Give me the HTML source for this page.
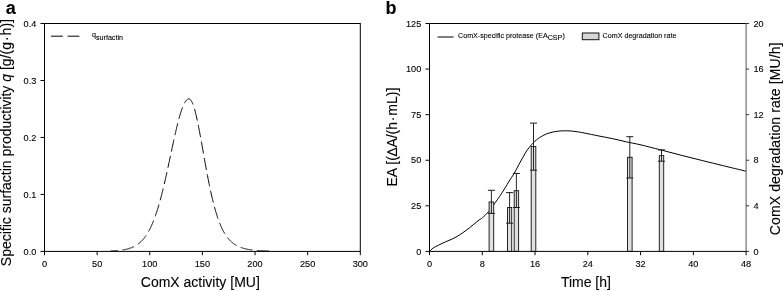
<!DOCTYPE html>
<html><head><meta charset="utf-8"><title>Figure</title>
<style>
html,body{margin:0;padding:0;background:#fff;}
body{width:783px;height:291px;overflow:hidden;}
svg text{stroke:#000;stroke-width:0.1px;}
svg{display:block;will-change:transform;transform:translateZ(0);font-family:"Liberation Sans", Arial, Helvetica, sans-serif;fill:#000;}
svg path, svg line, svg rect{}
</style></head><body>
<svg width="783" height="291" viewBox="0 0 783 291">
<rect x="0" y="0" width="783" height="291" fill="#fff"/>
<g fill="#000">
<rect x="44.5" y="23.5" width="315.80" height="227.90" fill="none" stroke="#000" stroke-width="1"/>
<line x1="40.50" y1="251.40" x2="44.50" y2="251.40" stroke="#000" stroke-width="1" />
<text transform="translate(36.30,254.65) scale(1,1.06)" font-size="9.2" text-anchor="end">0.0</text>
<line x1="40.50" y1="194.43" x2="44.50" y2="194.43" stroke="#000" stroke-width="1" />
<text transform="translate(36.30,197.68) scale(1,1.06)" font-size="9.2" text-anchor="end">0.1</text>
<line x1="40.50" y1="137.45" x2="44.50" y2="137.45" stroke="#000" stroke-width="1" />
<text transform="translate(36.30,140.70) scale(1,1.06)" font-size="9.2" text-anchor="end">0.2</text>
<line x1="40.50" y1="80.47" x2="44.50" y2="80.47" stroke="#000" stroke-width="1" />
<text transform="translate(36.30,83.72) scale(1,1.06)" font-size="9.2" text-anchor="end">0.3</text>
<line x1="40.50" y1="23.50" x2="44.50" y2="23.50" stroke="#000" stroke-width="1" />
<text transform="translate(36.30,26.75) scale(1,1.06)" font-size="9.2" text-anchor="end">0.4</text>
<line x1="44.50" y1="251.40" x2="44.50" y2="255.20" stroke="#000" stroke-width="1" />
<text transform="translate(44.50,267.10) scale(1,1.06)" font-size="9.2" text-anchor="middle">0</text>
<line x1="97.13" y1="251.40" x2="97.13" y2="255.20" stroke="#000" stroke-width="1" />
<text transform="translate(97.13,267.10) scale(1,1.06)" font-size="9.2" text-anchor="middle">50</text>
<line x1="149.77" y1="251.40" x2="149.77" y2="255.20" stroke="#000" stroke-width="1" />
<text transform="translate(149.77,267.10) scale(1,1.06)" font-size="9.2" text-anchor="middle">100</text>
<line x1="202.40" y1="251.40" x2="202.40" y2="255.20" stroke="#000" stroke-width="1" />
<text transform="translate(202.40,267.10) scale(1,1.06)" font-size="9.2" text-anchor="middle">150</text>
<line x1="255.03" y1="251.40" x2="255.03" y2="255.20" stroke="#000" stroke-width="1" />
<text transform="translate(255.03,267.10) scale(1,1.06)" font-size="9.2" text-anchor="middle">200</text>
<line x1="307.67" y1="251.40" x2="307.67" y2="255.20" stroke="#000" stroke-width="1" />
<text transform="translate(307.67,267.10) scale(1,1.06)" font-size="9.2" text-anchor="middle">250</text>
<line x1="360.30" y1="251.40" x2="360.30" y2="255.20" stroke="#000" stroke-width="1" />
<text transform="translate(360.30,267.10) scale(1,1.06)" font-size="9.2" text-anchor="middle">300</text>
<text transform="translate(200.3,287.1) scale(1.0,1)" font-size="14.0" text-anchor="middle">ComX activity [MU]</text>
<text transform="translate(11.3,142.6) rotate(-90) scale(1.0,1)" font-size="14.0" text-anchor="middle">Specific surfactin productivity <tspan font-style="italic">q</tspan> [g/(g<tspan dx="1">·</tspan><tspan dx="1">h)]</tspan></text>
<text x="5.80" y="13.60" font-size="18" text-anchor="start" font-weight="bold" >a</text>
<line x1="51.00" y1="36.20" x2="79.40" y2="36.20" stroke="#000" stroke-width="1.0" stroke-dasharray="11.8 4.8"/>
<text x="92" y="36.9" font-size="7.15">q<tspan dy="2.9" font-size="7.15">surfactin</tspan></text>
<path d="M189.00,98.90 L189.25,98.94 L189.50,99.02 L189.75,99.14 L190.00,99.31 L190.25,99.51 L190.50,99.76 L190.75,100.05 L191.00,100.38 L191.25,100.75 L191.50,101.16 L191.75,101.61 L192.00,102.10 L192.25,102.63 L192.50,103.19 L192.75,103.80 L193.00,104.44 L193.25,105.12 L193.50,105.83 L193.75,106.58 L194.00,107.37 L194.25,108.18 L194.50,109.04 L194.75,109.92 L195.00,110.83 L195.25,111.78 L195.50,112.75 L195.75,113.75 L196.00,114.78 L196.25,115.84 L196.50,116.92 L196.75,118.03 L197.00,119.16 L197.25,120.32 L197.50,121.49 L197.75,122.69 L198.00,123.91 L198.25,125.14 L198.50,126.40 L198.75,127.67 L199.00,128.96 L199.25,130.26 L199.50,131.57 L199.75,132.90 L200.00,134.24 L200.25,135.60 L200.50,136.96 L200.75,138.33 L201.00,139.71 L201.25,141.09 L201.50,142.49 L201.75,143.88 L202.00,145.29 L202.25,146.69 L202.50,148.10 L202.75,149.51 L203.00,150.92 L203.25,152.33 L203.50,153.75 L203.75,155.16 L204.00,156.56 L204.25,157.97 L204.50,159.37 L204.75,160.77 L205.00,162.16 L205.25,163.55 L205.50,164.93 L205.75,166.30 L206.00,167.67 L206.25,169.03 L206.50,170.38 L206.75,171.72 L207.00,173.05 L207.25,174.38 L207.50,175.69 L207.75,176.99 L208.00,178.28 L208.25,179.56 L208.50,180.83 L208.75,182.08 L209.00,183.33 L209.25,184.56 L209.50,185.78 L209.75,186.98 L210.00,188.17 L210.25,189.35 L210.50,190.51 L210.75,191.66 L211.00,192.80 L211.25,193.92 L211.50,195.02 L211.75,196.11 L212.00,197.19 L212.25,198.25 L212.50,199.30 L212.75,200.33 L213.00,201.35 L213.25,202.35 L213.50,203.34 L213.75,204.31 L214.00,205.27 L214.25,206.21 L214.50,207.14 L214.75,208.05 L215.00,208.95 L215.25,209.83 L215.50,210.70 L215.75,211.55 L216.00,212.39 L216.25,213.21 L216.50,214.02 L216.75,214.82 L217.00,215.60 L217.25,216.37 L217.50,217.12 L217.75,217.86 L218.00,218.59 L218.25,219.30 L218.50,220.00 L218.75,220.69 L219.00,221.36 L219.25,222.02 L219.50,222.67 L219.75,223.30 L220.00,223.92 L220.25,224.53 L220.50,225.13 L220.75,225.71 L221.00,226.29 L221.25,226.85 L221.50,227.40 L221.75,227.94 L222.00,228.47 L222.25,228.99 L222.50,229.49 L222.75,229.99 L223.00,230.47 L223.25,230.95 L223.50,231.41 L223.75,231.87 L224.00,232.32 L224.25,232.75 L224.50,233.18 L224.75,233.59 L225.00,234.00 L225.25,234.40 L225.50,234.79 L225.75,235.17 L226.00,235.55 L226.25,235.91 L226.50,236.27 L226.75,236.62 L227.00,236.96 L227.25,237.29 L227.50,237.62 L227.75,237.94 L228.00,238.25 L228.25,238.56 L228.50,238.85 L228.75,239.14 L229.00,239.43 L229.25,239.71 L229.50,239.98 L229.75,240.24 L230.00,240.50 L230.25,240.76 L230.50,241.00 L230.75,241.24 L231.00,241.48 L231.25,241.71 L231.50,241.94 L231.75,242.16 L232.00,242.37 L232.25,242.58 L232.50,242.79 L232.75,242.99 L233.00,243.18 L233.25,243.37 L233.50,243.56 L233.75,243.74 L234.00,243.92 L234.25,244.09 L234.50,244.26 L234.75,244.43 L235.00,244.59 L235.25,244.75 L235.50,244.90 L235.75,245.05 L236.00,245.20 L236.25,245.34 L236.50,245.48 L236.75,245.62 L237.00,245.75 L237.25,245.88 L237.50,246.01 L237.75,246.13 L238.00,246.25 L238.25,246.37 L238.50,246.49 L238.75,246.60 L239.00,246.71 L239.25,246.82 L239.50,246.92 L239.75,247.03 L240.00,247.13 L240.25,247.22 L240.50,247.32 L240.75,247.41 L241.00,247.50 L241.25,247.59 L241.50,247.68 L241.75,247.76 L242.00,247.85 L242.25,247.93 L242.50,248.00 L242.75,248.08 L243.00,248.16 L243.25,248.23 L243.50,248.30 L243.75,248.37 L244.00,248.44 L244.25,248.51 L244.50,248.57 L244.75,248.63 L245.00,248.70 L245.25,248.76 L245.50,248.82 L245.75,248.87 L246.00,248.93 L246.25,248.98 L246.50,249.04 L246.75,249.09 L247.00,249.14 L247.25,249.19 L247.50,249.24 L247.75,249.29 L248.00,249.34 L248.25,249.38 L248.50,249.43 L248.75,249.47 L249.00,249.51 L249.25,249.55 L249.50,249.59 L249.75,249.63 L250.00,249.67 L250.25,249.71 L250.50,249.75 L250.75,249.78 L251.00,249.82 L251.25,249.85 L251.50,249.88 L251.75,249.92 L252.00,249.95 L252.25,249.98 L252.50,250.01 L252.75,250.04 L253.00,250.07 L253.25,250.10 L253.50,250.13 L253.75,250.15 L254.00,250.18 L254.25,250.21 L254.50,250.23 L254.75,250.26 L255.00,250.28 L255.25,250.30 L255.50,250.33 L255.75,250.35 L256.00,250.37 L256.25,250.39 L256.50,250.41 L256.75,250.44 L257.00,250.46 L257.25,250.48 L257.50,250.49 L257.75,250.51 L258.00,250.53 L258.25,250.55 L258.50,250.57 L258.75,250.58 L259.00,250.60 L259.25,250.62 L259.50,250.63 L259.75,250.65 L260.00,250.67 L260.25,250.68 L260.50,250.69 L260.75,250.71 L261.00,250.72 L261.25,250.74 L261.50,250.75 L261.75,250.76 L262.00,250.78 L262.25,250.79 L262.50,250.80 L262.75,250.81 L263.00,250.83 L263.25,250.84 L263.50,250.85 L263.75,250.86 L264.00,250.87 L264.25,250.88 L264.50,250.89 L264.75,250.90 L265.00,250.91 L265.25,250.92 L265.50,250.93 L265.75,250.94 L266.00,250.95 L266.25,250.96 L266.50,250.97 L266.75,250.97 L267.00,250.98 L267.25,250.99 L267.50,251.00 L267.75,251.01 L268.00,251.01 L268.25,251.02 L268.50,251.03 L268.75,251.04 L269.00,251.04 L269.25,251.05 L269.50,251.06 L269.75,251.06 L270.00,251.07 L270.25,251.08 L270.50,251.08 L270.75,251.09 L271.00,251.09 L271.25,251.10 L271.50,251.11" fill="none" stroke="#000" stroke-width="1.0" stroke-dasharray="12.2 4.5" stroke-dashoffset="5.01"/>
<path d="M189.00,98.90 L188.75,98.90 L188.50,98.93 L188.25,98.99 L188.00,99.07 L187.75,99.18 L187.50,99.32 L187.25,99.49 L187.00,99.68 L186.75,99.89 L186.50,100.14 L186.25,100.40 L186.00,100.70 L185.75,101.02 L185.50,101.37 L185.25,101.74 L185.00,102.14 L184.75,102.56 L184.50,103.01 L184.25,103.48 L184.00,103.98 L183.75,104.50 L183.50,105.04 L183.25,105.61 L183.00,106.20 L182.75,106.81 L182.50,107.45 L182.25,108.10 L182.00,108.78 L181.75,109.48 L181.50,110.20 L181.25,110.94 L181.00,111.71 L180.75,112.49 L180.50,113.29 L180.25,114.11 L180.00,114.95 L179.75,115.80 L179.50,116.67 L179.25,117.56 L179.00,118.47 L178.75,119.39 L178.50,120.33 L178.25,121.28 L178.00,122.25 L177.75,123.23 L177.50,124.23 L177.25,125.24 L177.00,126.26 L176.75,127.29 L176.50,128.34 L176.25,129.40 L176.00,130.46 L175.75,131.54 L175.50,132.63 L175.25,133.72 L175.00,134.83 L174.75,135.94 L174.50,137.06 L174.25,138.19 L174.00,139.32 L173.75,140.46 L173.50,141.61 L173.25,142.76 L173.00,143.92 L172.75,145.08 L172.50,146.24 L172.25,147.41 L172.00,148.58 L171.75,149.75 L171.50,150.93 L171.25,152.11 L171.00,153.28 L170.75,154.46 L170.50,155.64 L170.25,156.82 L170.00,157.99 L169.75,159.17 L169.50,160.35 L169.25,161.52 L169.00,162.69 L168.75,163.86 L168.50,165.03 L168.25,166.19 L168.00,167.35 L167.75,168.50 L167.50,169.65 L167.25,170.80 L167.00,171.94 L166.75,173.07 L166.50,174.20 L166.25,175.33 L166.00,176.45 L165.75,177.56 L165.50,178.66 L165.25,179.76 L165.00,180.85 L164.75,181.94 L164.50,183.01 L164.25,184.08 L164.00,185.14 L163.75,186.20 L163.50,187.24 L163.25,188.28 L163.00,189.30 L162.75,190.32 L162.50,191.33 L162.25,192.33 L162.00,193.32 L161.75,194.30 L161.50,195.27 L161.25,196.23 L161.00,197.18 L160.75,198.12 L160.50,199.05 L160.25,199.97 L160.00,200.88 L159.75,201.78 L159.50,202.67 L159.25,203.55 L159.00,204.42 L158.75,205.28 L158.50,206.13 L158.25,206.97 L158.00,207.79 L157.75,208.61 L157.50,209.42 L157.25,210.21 L157.00,210.99 L156.75,211.77 L156.50,212.53 L156.25,213.28 L156.00,214.02 L155.75,214.75 L155.50,215.47 L155.25,216.18 L155.00,216.88 L154.75,217.57 L154.50,218.25 L154.25,218.92 L154.00,219.58 L153.75,220.22 L153.50,220.86 L153.25,221.49 L153.00,222.10 L152.75,222.71 L152.50,223.31 L152.25,223.90 L152.00,224.47 L151.75,225.04 L151.50,225.60 L151.25,226.15 L151.00,226.68 L150.75,227.21 L150.50,227.73 L150.25,228.25 L150.00,228.75 L149.75,229.24 L149.50,229.72 L149.25,230.20 L149.00,230.67 L148.75,231.12 L148.50,231.57 L148.25,232.01 L148.00,232.45 L147.75,232.87 L147.50,233.29 L147.25,233.70 L147.00,234.10 L146.75,234.49 L146.50,234.87 L146.25,235.25 L146.00,235.62 L145.75,235.98 L145.50,236.34 L145.25,236.69 L145.00,237.03 L144.75,237.36 L144.50,237.69 L144.25,238.01 L144.00,238.32 L143.75,238.63 L143.50,238.93 L143.25,239.23 L143.00,239.51 L142.75,239.80 L142.50,240.07 L142.25,240.34 L142.00,240.61 L141.75,240.87 L141.50,241.12 L141.25,241.37 L141.00,241.61 L140.75,241.85 L140.50,242.08 L140.25,242.31 L140.00,242.53 L139.75,242.75 L139.50,242.96 L139.25,243.16 L139.00,243.37 L138.75,243.57 L138.50,243.76 L138.25,243.95 L138.00,244.13 L137.75,244.31 L137.50,244.49 L137.25,244.66 L137.00,244.83 L136.75,244.99 L136.50,245.16 L136.25,245.31 L136.00,245.47 L135.75,245.61 L135.50,245.76 L135.25,245.90 L135.00,246.04 L134.75,246.18 L134.50,246.31 L134.25,246.44 L134.00,246.57 L133.75,246.69 L133.50,246.81 L133.25,246.93 L133.00,247.04 L132.75,247.15 L132.50,247.26 L132.25,247.37 L132.00,247.47 L131.75,247.58 L131.50,247.67 L131.25,247.77 L131.00,247.86 L130.75,247.96 L130.50,248.05 L130.25,248.13 L130.00,248.22 L129.75,248.30 L129.50,248.38 L129.25,248.46 L129.00,248.54 L128.75,248.61 L128.50,248.69 L128.25,248.76 L128.00,248.83 L127.75,248.89 L127.50,248.96 L127.25,249.02 L127.00,249.09 L126.75,249.15 L126.50,249.21 L126.25,249.26 L126.00,249.32 L125.75,249.38 L125.50,249.43 L125.25,249.48 L125.00,249.53 L124.75,249.58 L124.50,249.63 L124.25,249.68 L124.00,249.72 L123.75,249.77 L123.50,249.81 L123.25,249.85 L123.00,249.90 L122.75,249.94 L122.50,249.97 L122.25,250.01 L122.00,250.05 L121.75,250.09 L121.50,250.12 L121.25,250.16 L121.00,250.19 L120.75,250.22 L120.50,250.25 L120.25,250.28 L120.00,250.31 L119.75,250.34 L119.50,250.37 L119.25,250.40 L119.00,250.43 L118.75,250.45 L118.50,250.48 L118.25,250.50 L118.00,250.53 L117.75,250.55 L117.50,250.57 L117.25,250.59 L117.00,250.62 L116.75,250.64 L116.50,250.66 L116.25,250.68 L116.00,250.70 L115.75,250.72 L115.50,250.74 L115.25,250.75 L115.00,250.77 L114.75,250.79 L114.50,250.80 L114.25,250.82 L114.00,250.84 L113.75,250.85 L113.50,250.87 L113.25,250.88 L113.00,250.89 L112.75,250.91 L112.50,250.92 L112.25,250.93 L112.00,250.95 L111.75,250.96 L111.50,250.97 L111.25,250.98 L111.00,250.99 L110.75,251.00 L110.50,251.02" fill="none" stroke="#000" stroke-width="1.0" stroke-dasharray="12.2 4.5" stroke-dashoffset="5.60"/>
<path d="M429.60,251.30 C430.20,250.75 431.68,249.03 433.20,248.00 C434.72,246.97 436.63,246.13 438.70,245.10 C440.77,244.07 443.30,242.83 445.60,241.80 C447.90,240.77 450.20,240.03 452.50,238.90 C454.80,237.77 457.12,236.43 459.40,235.00 C461.68,233.57 463.92,231.98 466.20,230.30 C468.48,228.62 470.97,226.62 473.10,224.90 C475.23,223.18 477.43,221.20 479.00,220.00 C480.57,218.80 480.88,219.12 482.50,217.70 C484.12,216.28 486.87,213.62 488.70,211.50 C490.53,209.38 492.08,206.93 493.50,205.00 C494.92,203.07 495.75,201.98 497.20,199.90 C498.65,197.82 500.30,195.48 502.20,192.50 C504.10,189.52 506.62,185.17 508.60,182.00 C510.58,178.83 512.42,176.35 514.10,173.50 C515.78,170.65 517.23,167.60 518.70,164.90 C520.17,162.20 521.52,159.72 522.90,157.30 C524.28,154.88 525.63,152.42 527.00,150.40 C528.37,148.38 530.02,146.52 531.10,145.20 C532.18,143.88 532.12,143.75 533.50,142.50 C534.88,141.25 537.28,139.12 539.40,137.70 C541.52,136.28 543.92,134.95 546.20,134.00 C548.48,133.05 550.97,132.48 553.10,132.00 C555.23,131.52 557.10,131.30 559.00,131.10 C560.90,130.90 562.43,130.82 564.50,130.80 C566.57,130.78 569.10,130.82 571.40,131.00 C573.70,131.18 576.00,131.53 578.30,131.90 C580.60,132.27 581.75,132.52 585.20,133.20 C588.65,133.88 594.40,135.08 599.00,136.00 C603.60,136.92 608.20,137.72 612.80,138.70 C617.40,139.68 622.07,140.90 626.60,141.90 C631.13,142.90 634.32,143.37 640.00,144.70 C645.68,146.03 653.80,148.13 660.70,149.90 C667.60,151.67 674.50,153.53 681.40,155.30 C688.30,157.07 695.20,158.78 702.10,160.50 C709.00,162.22 715.48,163.82 722.80,165.60 C730.12,167.38 742.13,170.27 746.00,171.20" fill="none" stroke="#000" stroke-width="1.0"/>
<rect x="489.10" y="202.00" width="4.60" height="49.40" fill="#e0e0e0" stroke="#1a1a1a" stroke-width="0.95"/>
<rect x="507.50" y="207.50" width="4.20" height="43.90" fill="#e0e0e0" stroke="#1a1a1a" stroke-width="0.95"/>
<rect x="514.20" y="190.70" width="4.40" height="60.70" fill="#e0e0e0" stroke="#1a1a1a" stroke-width="0.95"/>
<rect x="531.20" y="146.50" width="4.60" height="104.90" fill="#e0e0e0" stroke="#1a1a1a" stroke-width="0.95"/>
<rect x="627.50" y="157.30" width="4.60" height="94.10" fill="#e0e0e0" stroke="#1a1a1a" stroke-width="0.95"/>
<rect x="659.30" y="155.60" width="4.40" height="95.80" fill="#e0e0e0" stroke="#1a1a1a" stroke-width="0.95"/>
<line x1="491.40" y1="190.30" x2="491.40" y2="213.40" stroke="#1a1a1a" stroke-width="0.95" />
<line x1="487.90" y1="190.30" x2="494.90" y2="190.30" stroke="#1a1a1a" stroke-width="1" />
<line x1="487.90" y1="213.40" x2="494.90" y2="213.40" stroke="#1a1a1a" stroke-width="1" />
<line x1="509.60" y1="192.60" x2="509.60" y2="223.20" stroke="#1a1a1a" stroke-width="0.95" />
<line x1="506.10" y1="192.60" x2="513.10" y2="192.60" stroke="#1a1a1a" stroke-width="1" />
<line x1="506.10" y1="223.20" x2="513.10" y2="223.20" stroke="#1a1a1a" stroke-width="1" />
<line x1="516.40" y1="173.40" x2="516.40" y2="207.50" stroke="#1a1a1a" stroke-width="0.95" />
<line x1="512.90" y1="173.40" x2="519.90" y2="173.40" stroke="#1a1a1a" stroke-width="1" />
<line x1="512.90" y1="207.50" x2="519.90" y2="207.50" stroke="#1a1a1a" stroke-width="1" />
<line x1="533.50" y1="123.10" x2="533.50" y2="170.20" stroke="#1a1a1a" stroke-width="0.95" />
<line x1="530.00" y1="123.10" x2="537.00" y2="123.10" stroke="#1a1a1a" stroke-width="1" />
<line x1="530.00" y1="170.20" x2="537.00" y2="170.20" stroke="#1a1a1a" stroke-width="1" />
<line x1="629.80" y1="136.70" x2="629.80" y2="178.00" stroke="#1a1a1a" stroke-width="0.95" />
<line x1="626.30" y1="136.70" x2="633.30" y2="136.70" stroke="#1a1a1a" stroke-width="1" />
<line x1="626.30" y1="178.00" x2="633.30" y2="178.00" stroke="#1a1a1a" stroke-width="1" />
<line x1="661.50" y1="149.90" x2="661.50" y2="161.20" stroke="#1a1a1a" stroke-width="0.95" />
<line x1="658.00" y1="149.90" x2="665.00" y2="149.90" stroke="#1a1a1a" stroke-width="1" />
<line x1="658.00" y1="161.20" x2="665.00" y2="161.20" stroke="#1a1a1a" stroke-width="1" />
<path d="M429.5,251.4 L429.5,23.5 L746.1,23.5" fill="none" stroke="#000" stroke-width="1"/>
<line x1="429.50" y1="251.40" x2="746.10" y2="251.40" stroke="#000" stroke-width="1" />
<line x1="746.10" y1="23.50" x2="746.10" y2="251.40" stroke="#555" stroke-width="1" />
<line x1="425.50" y1="251.40" x2="429.50" y2="251.40" stroke="#000" stroke-width="1" />
<text transform="translate(421.30,254.65) scale(1,1.06)" font-size="9.2" text-anchor="end">0</text>
<line x1="425.50" y1="205.82" x2="429.50" y2="205.82" stroke="#000" stroke-width="1" />
<text transform="translate(421.30,209.07) scale(1,1.06)" font-size="9.2" text-anchor="end">25</text>
<line x1="425.50" y1="160.24" x2="429.50" y2="160.24" stroke="#000" stroke-width="1" />
<text transform="translate(421.30,163.49) scale(1,1.06)" font-size="9.2" text-anchor="end">50</text>
<line x1="425.50" y1="114.66" x2="429.50" y2="114.66" stroke="#000" stroke-width="1" />
<text transform="translate(421.30,117.91) scale(1,1.06)" font-size="9.2" text-anchor="end">75</text>
<line x1="425.50" y1="69.08" x2="429.50" y2="69.08" stroke="#000" stroke-width="1" />
<text transform="translate(421.30,72.33) scale(1,1.06)" font-size="9.2" text-anchor="end">100</text>
<line x1="425.50" y1="23.50" x2="429.50" y2="23.50" stroke="#000" stroke-width="1" />
<text transform="translate(421.30,26.75) scale(1,1.06)" font-size="9.2" text-anchor="end">125</text>
<line x1="746.10" y1="251.40" x2="749.10" y2="251.40" stroke="#333" stroke-width="1" />
<text transform="translate(753.40,254.65) scale(1,1.06)" font-size="9.2" text-anchor="start">0</text>
<line x1="746.10" y1="205.82" x2="749.10" y2="205.82" stroke="#333" stroke-width="1" />
<text transform="translate(753.40,209.07) scale(1,1.06)" font-size="9.2" text-anchor="start">4</text>
<line x1="746.10" y1="160.24" x2="749.10" y2="160.24" stroke="#333" stroke-width="1" />
<text transform="translate(753.40,163.49) scale(1,1.06)" font-size="9.2" text-anchor="start">8</text>
<line x1="746.10" y1="114.66" x2="749.10" y2="114.66" stroke="#333" stroke-width="1" />
<text transform="translate(753.40,117.91) scale(1,1.06)" font-size="9.2" text-anchor="start">12</text>
<line x1="746.10" y1="69.08" x2="749.10" y2="69.08" stroke="#333" stroke-width="1" />
<text transform="translate(753.40,72.33) scale(1,1.06)" font-size="9.2" text-anchor="start">16</text>
<line x1="746.10" y1="23.50" x2="749.10" y2="23.50" stroke="#333" stroke-width="1" />
<text transform="translate(753.40,26.75) scale(1,1.06)" font-size="9.2" text-anchor="start">20</text>
<line x1="429.50" y1="251.40" x2="429.50" y2="255.20" stroke="#000" stroke-width="1" />
<text transform="translate(429.50,267.10) scale(1,1.06)" font-size="9.2" text-anchor="middle">0</text>
<line x1="482.27" y1="251.40" x2="482.27" y2="255.20" stroke="#000" stroke-width="1" />
<text transform="translate(482.27,267.10) scale(1,1.06)" font-size="9.2" text-anchor="middle">8</text>
<line x1="535.03" y1="251.40" x2="535.03" y2="255.20" stroke="#000" stroke-width="1" />
<text transform="translate(535.03,267.10) scale(1,1.06)" font-size="9.2" text-anchor="middle">16</text>
<line x1="587.80" y1="251.40" x2="587.80" y2="255.20" stroke="#000" stroke-width="1" />
<text transform="translate(587.80,267.10) scale(1,1.06)" font-size="9.2" text-anchor="middle">24</text>
<line x1="640.57" y1="251.40" x2="640.57" y2="255.20" stroke="#000" stroke-width="1" />
<text transform="translate(640.57,267.10) scale(1,1.06)" font-size="9.2" text-anchor="middle">32</text>
<line x1="693.33" y1="251.40" x2="693.33" y2="255.20" stroke="#000" stroke-width="1" />
<text transform="translate(693.33,267.10) scale(1,1.06)" font-size="9.2" text-anchor="middle">40</text>
<line x1="746.10" y1="251.40" x2="746.10" y2="255.20" stroke="#000" stroke-width="1" />
<text transform="translate(746.10,267.10) scale(1,1.06)" font-size="9.2" text-anchor="middle">48</text>
<text transform="translate(585.9,287.2) scale(1.0,1)" font-size="14.0" text-anchor="middle">Time [h]</text>
<text transform="translate(396.8,137.1) rotate(-90) scale(1.0,1)" font-size="14.0" text-anchor="middle">EA [(∆A/(h<tspan dx="0.8">·</tspan><tspan dx="0.8">mL)]</tspan></text>
<text transform="translate(780.2,138.8) rotate(-90) scale(1.0,1)" font-size="14.0" text-anchor="middle" letter-spacing="0.1">ComX degradation rate [MU/h]</text>
<text x="385.60" y="13.60" font-size="18" text-anchor="start" font-weight="bold" >b</text>
<line x1="437.50" y1="37.00" x2="453.60" y2="37.00" stroke="#000" stroke-width="1.0" />
<text x="458" y="38.35" font-size="7.15">ComX-specific protease (EA<tspan dy="1.9">CSP</tspan><tspan dy="-1.9">)</tspan></text>
<rect x="582.3" y="33.0" width="16.6" height="6.7" fill="#d6d6d6" stroke="#111" stroke-width="1"/>
<text x="602.60" y="38.35" font-size="7.15" text-anchor="start" font-weight="normal" >ComX degradation rate</text>
</g>
</svg>
</body></html>
